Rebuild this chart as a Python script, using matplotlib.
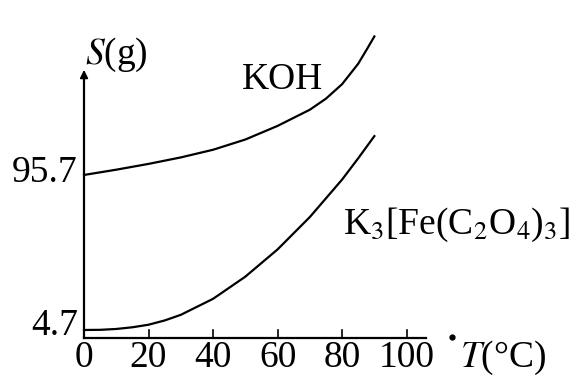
import matplotlib
matplotlib.use("Agg")
from matplotlib import pyplot as plt

plt.rcParams['font.family'] = ['Liberation Serif', 'DejaVu Serif']
plt.rcParams['mathtext.fontset'] = 'stix'

# solubility curves (T in degC, S in g)
koh_t = [0, 10, 20, 30, 40, 50, 60, 70, 75, 80, 85, 88, 90]
koh_s = [95.7, 98.8, 102.2, 106, 110.5, 116.5, 124.5, 134, 140.5, 149, 161, 170.5, 177]

k3_t = [0, 5, 10, 15, 20, 25, 30, 40, 50, 60, 70, 80, 85, 90]
k3_s = [4.7, 4.8, 5.3, 6.3, 7.8, 10.3, 13.6, 23, 36, 52, 71, 93, 105.5, 118.5]

x_ticks = [0, 20, 40, 60, 80, 100]
y_marks = [4.7, 95.7]

fig = plt.figure(figsize=(5.75, 3.84), dpi=100)
ax = fig.add_axes([0, 0, 1, 1])
ax.set_xlim(-26.05, 152.2)
ax.set_ylim(-27.0, 198.4)
ax.axis('off')

lw = 1.6
# axes drawn by hand, schematic style
ax.plot([0, 0], [0, 154], color='black', lw=lw)
ax.annotate('', xy=(0, 159), xytext=(0, 150),
            arrowprops=dict(arrowstyle='-|>', color='black', lw=1.2, mutation_scale=12))
ax.plot([0, 106], [0, 0], color='black', lw=lw)
ax.plot([114], [0.5], marker='o', ms=3.5, color='black')
for t in x_ticks[1:]:
    ax.plot([t, t], [0, 4.5], color='black', lw=1.2)

ax.plot(koh_t, koh_s, color='black', lw=lw)
ax.plot(k3_t, k3_s, color='black', lw=lw)

fs = 27
for t in x_ticks:
    ax.text(t, -11.7, str(t), ha='center', va='center', fontsize=fs)
ax.text(-1.9, 96.9, str(y_marks[1]), ha='right', va='center', fontsize=fs)
ax.text(-1.9, 7.1, str(y_marks[0]), ha='right', va='center', fontsize=fs)

ax.text(0.3, 166, r'$S$(g)', ha='left', va='center', fontsize=fs)
ax.text(61.4, 151.5, 'KOH', ha='center', va='center', fontsize=fs)
ax.text(116.5, -11.7, r'$T$(°C)', ha='left', va='center', fontsize=fs)
ax.text(80.3, 66.3, r'K$_3$[Fe(C$_2$O$_4$)$_3$]', ha='left', va='center', fontsize=fs)

fig.savefig('out.png', dpi=100)
